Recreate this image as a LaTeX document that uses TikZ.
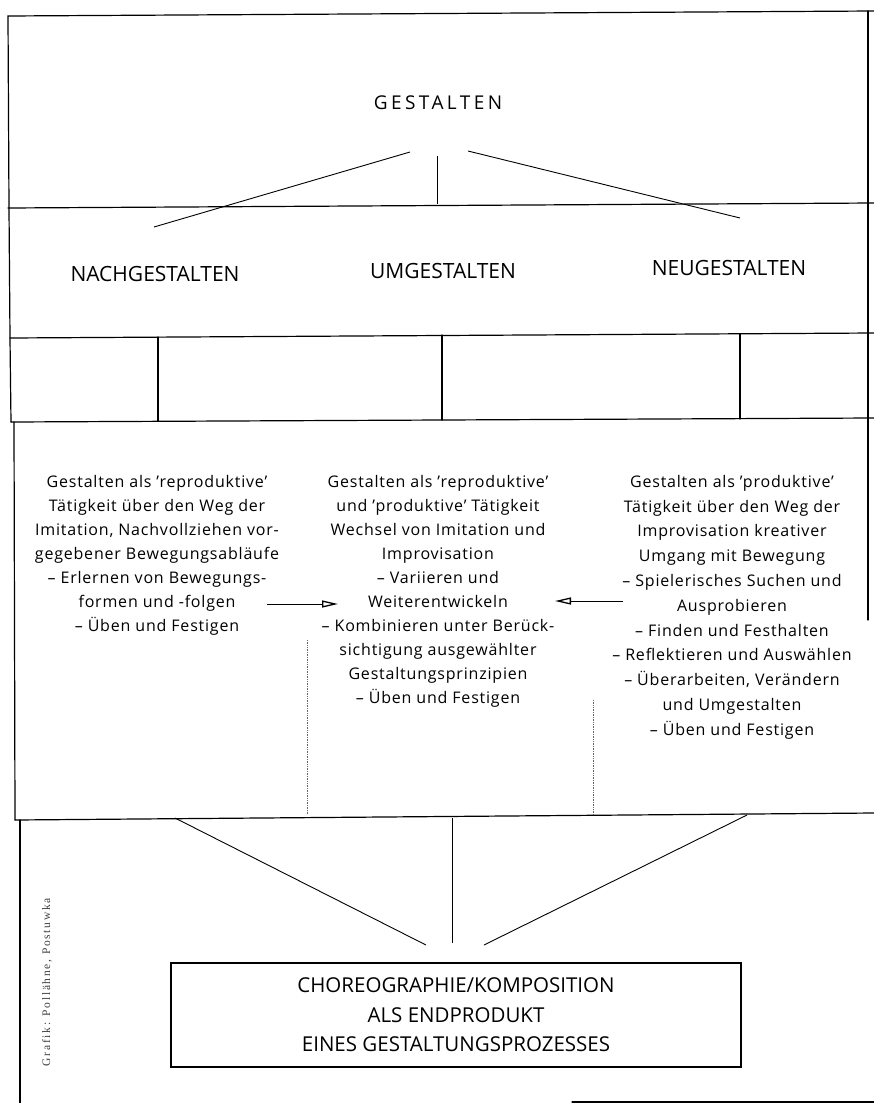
\documentclass[tikz,border=0pt]{standalone}
\usepackage{fontspec}
\setmainfont{Open Sans}
\newfontfamily\creditfont[LetterSpace=15]{Liberation Serif}
\usetikzlibrary{arrows.meta}
\begin{document}
\begin{tikzpicture}[x=1pt,y=-1pt,
  frame/.style={line width=1.2pt, line cap=round},
  conn/.style={line width=0.9pt},
  gest/.style={font=\fontsize{19}{23}\selectfont\addfontfeature{LetterSpace=18}, inner sep=0pt},
  head/.style={font=\fontsize{21}{25}\selectfont, inner sep=0pt},
  body/.style={font=\fontsize{16}{24}\selectfont\addfontfeature{LetterSpace=5}, align=center, inner sep=0pt, anchor=north},
  bodyr/.style={body, font=\fontsize{16}{24.8}\selectfont\addfontfeature{LetterSpace=5}},
  arr/.style={line width=1pt, -{Triangle[open,length=16pt,width=7pt,line width=1.3pt]}},
  dots/.style={densely dotted, line width=0.7pt, black!60},
  boxstyle/.style={draw, line width=1.2pt, minimum width=570pt, minimum height=104pt, inner sep=0pt, align=center, font=\fontsize{20.5}{29.5}\selectfont}
]
\fill[white] (0,0) rectangle (874,1103);
\useasboundingbox (0,0) rectangle (874,1103);

% outer frame and section lines
\draw[frame] (874,11) -- (8,16) -- (9,208) -- (10,338) -- (11,422);
\draw[frame] (14,422) -- (15,820);
\draw[frame] (20,820) -- (20,1103);
\draw[frame] (868,11) -- (868,620);
\draw[frame] (8,208) -- (874,203);
\draw[frame] (10,338) -- (874,333);
\draw[frame] (11,422) -- (874,418);
\draw[frame] (15,820) -- (874,813);
\draw[frame] (572,1102) -- (874,1102);

% band verticals
\draw[frame] (158,337) -- (158,421);
\draw[frame] (442,335) -- (442,420);
\draw[frame] (740,334) -- (740,419);

% title and headings
\node[gest] (g) at (438,103) {GESTALTEN};
\node[head] (nach) at (155,274) {NACHGESTALTEN};
\node[head] (um) at (443,271) {UMGESTALTEN};
\node[head] (neu) at (729,268) {NEUGESTALTEN};

\coordinate (gL) at (410,152);
\coordinate (gM) at (437,156);
\coordinate (gR) at (468,151);
\coordinate (nachT) at (154,227);
\coordinate (umT) at (437,204);
\coordinate (neuT) at (740,218);
\draw[conn] (gL) -- (nachT);
\draw[conn] (gM) -- (umT);
\draw[conn] (gR) -- (neuT);

% columns
\node[body] (c1) at (157,475) {Gestalten als 'reproduktive'\\
Tätigkeit über den Weg der\\
Imitation, Nachvollziehen vor-\\
gegebener Bewegungsabläufe\\
-- Erlernen von Bewegungs-\\
formen und -folgen\\
-- Üben und Festigen};

\node[body] (c2) at (438,475) {Gestalten als 'reproduktive'\\
und 'produktive' Tätigkeit\\
Wechsel von Imitation und\\
Improvisation\\
-- Variieren und\\
Weiterentwickeln\\
-- Kombinieren unter Berück-\\
sichtigung ausgewählter\\
Gestaltungsprinzipien\\
-- Üben und Festigen};

\node[bodyr] (c3) at (732,475) {Gestalten als 'produktive'\\
Tätigkeit über den Weg der\\
Improvisation kreativer\\
Umgang mit Bewegung\\
-- Spielerisches Suchen und\\
Ausprobieren\\
-- Finden und Festhalten\\
-- Reflektieren und Auswählen\\
-- Überarbeiten, Verändern\\
und Umgestalten\\
-- Üben und Festigen};

% arrows between columns
\coordinate (a1s) at (267,604);
\coordinate (a1e) at (338,604);
\coordinate (a2s) at (623,601);
\coordinate (a2e) at (555,601);
\draw[arr] (a1s) -- (a1e);
\draw[arr] (a2s) -- (a2e);

% dotted lines
\coordinate (d1t) at (307,640);
\coordinate (d1b) at (307,814);
\coordinate (d2t) at (593,700);
\coordinate (d2b) at (593,814);
\draw[dots] (d1t) -- (d1b);
\draw[dots] (d2t) -- (d2b);

% final box
\node[boxstyle] (box) at (456,1015) {CHOREOGRAPHIE/KOMPOSITION\\ALS ENDPRODUKT\\EINES GESTALTUNGSPROZESSES};

\coordinate (bL) at (175,818);
\coordinate (bM) at (452,818);
\coordinate (bR) at (747,815);
\coordinate (bLe) at (426,945);
\coordinate (bMe) at (452,943);
\coordinate (bRe) at (484,945);
\draw[conn] (bL) -- (bLe);
\draw[conn] (bM) -- (bMe);
\draw[conn] (bR) -- (bRe);

% credit
\node[rotate=90, inner sep=0pt, text=black!75, font=\creditfont\fontsize{11.5}{13}\selectfont] (credit) at (47,982) {Grafik: Pollähne, Postuwka};
\end{tikzpicture}
\end{document}
